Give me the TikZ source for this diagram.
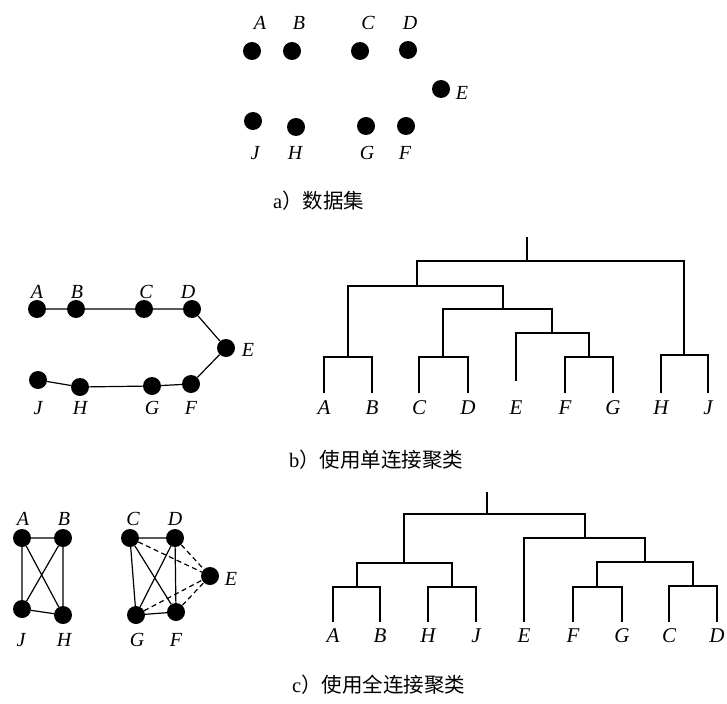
\documentclass[tikz,border=0pt]{standalone}
\usepackage{fontspec}
\setmainfont{Liberation Serif}
\newfontfamily\cjk{Noto Sans CJK SC}
\begin{document}
\begin{tikzpicture}[x=1pt,y=-1pt,
  dot/.style={circle,fill=black,minimum size=18pt,inner sep=0pt},
  lbl/.style={font=\itshape\fontsize{20}{20}\selectfont,inner sep=0pt},
  dlbl/.style={font=\itshape\fontsize{21}{21}\selectfont,inner sep=0pt},
  edge/.style={line width=1.2pt},
  dashedge/.style={line width=1.2pt,dash pattern=on 5pt off 3.5pt},
  dend/.style={line width=1.2pt},
  capt/.style={font=\fontsize{20.5}{20.5}\selectfont,inner sep=0pt,anchor=west}]
\useasboundingbox (0,0) rectangle (727,703);
% ---------- a) data set ----------
\node[dot] (aA) at (252,51) {};
\node[dot] (aB) at (292,51) {};
\node[dot] (aC) at (360,51) {};
\node[dot] (aD) at (408,50) {};
\node[dot] (aE) at (441,89) {};
\node[dot] (aJ) at (253,121) {};
\node[dot] (aH) at (296,127) {};
\node[dot] (aG) at (366,126) {};
\node[dot] (aF) at (406,126) {};
\node[lbl] (laA) at (260,23) {A};
\node[lbl] (laB) at (299,23) {B};
\node[lbl] (laC) at (368,23) {C};
\node[lbl] (laD) at (410,23) {D};
\node[lbl] (laE) at (462,93) {E};
\node[lbl] (laJ) at (255,153) {J};
\node[lbl] (laH) at (295,153) {H};
\node[lbl] (laG) at (367,153) {G};
\node[lbl] (laF) at (405,153) {F};
\node[capt] (capa) at (273,201) {a{\cjk ）数据集}};
% ---------- b) single link graph ----------
\node[dot] (bA) at (37,309) {};
\node[dot] (bB) at (76,309) {};
\node[dot] (bC) at (144,309) {};
\node[dot] (bD) at (192,309) {};
\node[dot] (bE) at (226,348) {};
\node[dot] (bJ) at (38,380) {};
\node[dot] (bH) at (80,387) {};
\node[dot] (bG) at (152,386) {};
\node[dot] (bF) at (191,384) {};
\node[lbl] (lbA) at (37,292) {A};
\node[lbl] (lbB) at (77,292) {B};
\node[lbl] (lbC) at (146,292) {C};
\node[lbl] (lbD) at (188,292) {D};
\node[lbl] (lbE) at (248,350) {E};
\node[lbl] (lbJ) at (38,408) {J};
\node[lbl] (lbH) at (80,408) {H};
\node[lbl] (lbG) at (152,408) {G};
\node[lbl] (lbF) at (191,408) {F};
\draw[edge] (bA)--(bB) (bB)--(bC) (bC)--(bD) (bD)--(bE) (bE)--(bF)
  (bF)--(bG) (bG)--(bH) (bH)--(bJ);
% ---------- b) single link dendrogram ----------
\draw[dend] (324,393)--(324,357)--(372,357)--(372,393);
\draw[dend] (419,393)--(419,357)--(468,357)--(468,393);
\draw[dend] (565,393)--(565,357)--(613,357)--(613,393);
\draw[dend] (661,393)--(661,355)--(708,355)--(708,393);
\draw[dend] (516,381)--(516,333)--(589,333)--(589,357);
\draw[dend] (443,357)--(443,309)--(552,309)--(552,333);
\draw[dend] (348,357)--(348,286)--(503,286)--(503,309);
\draw[dend] (417,286)--(417,261)--(684,261)--(684,355);
\draw[dend] (527,261)--(527,237);
\node[dlbl] (dbA) at (324,408) {A};
\node[dlbl] (dbB) at (372,408) {B};
\node[dlbl] (dbC) at (419,408) {C};
\node[dlbl] (dbD) at (468,408) {D};
\node[dlbl] (dbE) at (516,408) {E};
\node[dlbl] (dbF) at (565,408) {F};
\node[dlbl] (dbG) at (613,408) {G};
\node[dlbl] (dbH) at (661,408) {H};
\node[dlbl] (dbJ) at (708,408) {J};
\node[capt] (capb) at (289,460) {b{\cjk ）使用单连接聚类}};
% ---------- c) complete link graph ----------
\node[dot] (cA) at (22,538) {};
\node[dot] (cB) at (63,538) {};
\node[dot] (cJ) at (22,609) {};
\node[dot] (cH) at (63,615) {};
\node[dot] (cC) at (130,538) {};
\node[dot] (cD) at (175,538) {};
\node[dot] (cE) at (210,576) {};
\node[dot] (cG) at (136,615) {};
\node[dot] (cF) at (176,612) {};
\node[lbl] (lcA) at (23,519) {A};
\node[lbl] (lcB) at (64,519) {B};
\node[lbl] (lcC) at (133,519) {C};
\node[lbl] (lcD) at (175,519) {D};
\node[lbl] (lcE) at (231,579) {E};
\node[lbl] (lcJ) at (21,640) {J};
\node[lbl] (lcH) at (64,640) {H};
\node[lbl] (lcG) at (137,640) {G};
\node[lbl] (lcF) at (176,640) {F};
\draw[edge] (cA)--(cB) (cA)--(cJ) (cA)--(cH) (cB)--(cJ) (cB)--(cH) (cJ)--(cH);
\draw[edge] (cC)--(cD) (cC)--(cG) (cC)--(cF) (cD)--(cG) (cD)--(cF) (cG)--(cF);
\draw[dashedge] (cC)--(cE) (cD)--(cE) (cG)--(cE) (cF)--(cE);
% ---------- c) complete link dendrogram ----------
\draw[dend] (333,622)--(333,587)--(380,587)--(380,622);
\draw[dend] (428,622)--(428,587)--(476,587)--(476,622);
\draw[dend] (573,622)--(573,587)--(622,587)--(622,622);
\draw[dend] (669,622)--(669,586)--(717,586)--(717,622);
\draw[dend] (357,587)--(357,563)--(452,563)--(452,587);
\draw[dend] (597,587)--(597,562)--(693,562)--(693,586);
\draw[dend] (524,622)--(524,538)--(645,538)--(645,562);
\draw[dend] (404,563)--(404,514)--(585,514)--(585,538);
\draw[dend] (487,514)--(487,492);
\node[dlbl] (dcA) at (333,636) {A};
\node[dlbl] (dcB) at (380,636) {B};
\node[dlbl] (dcH) at (428,636) {H};
\node[dlbl] (dcJ) at (476,636) {J};
\node[dlbl] (dcE) at (524,636) {E};
\node[dlbl] (dcF) at (573,636) {F};
\node[dlbl] (dcG) at (622,636) {G};
\node[dlbl] (dcC) at (669,636) {C};
\node[dlbl] (dcD) at (717,636) {D};
\node[capt] (capc) at (292,685) {c{\cjk ）使用全连接聚类}};
\end{tikzpicture}
\end{document}
